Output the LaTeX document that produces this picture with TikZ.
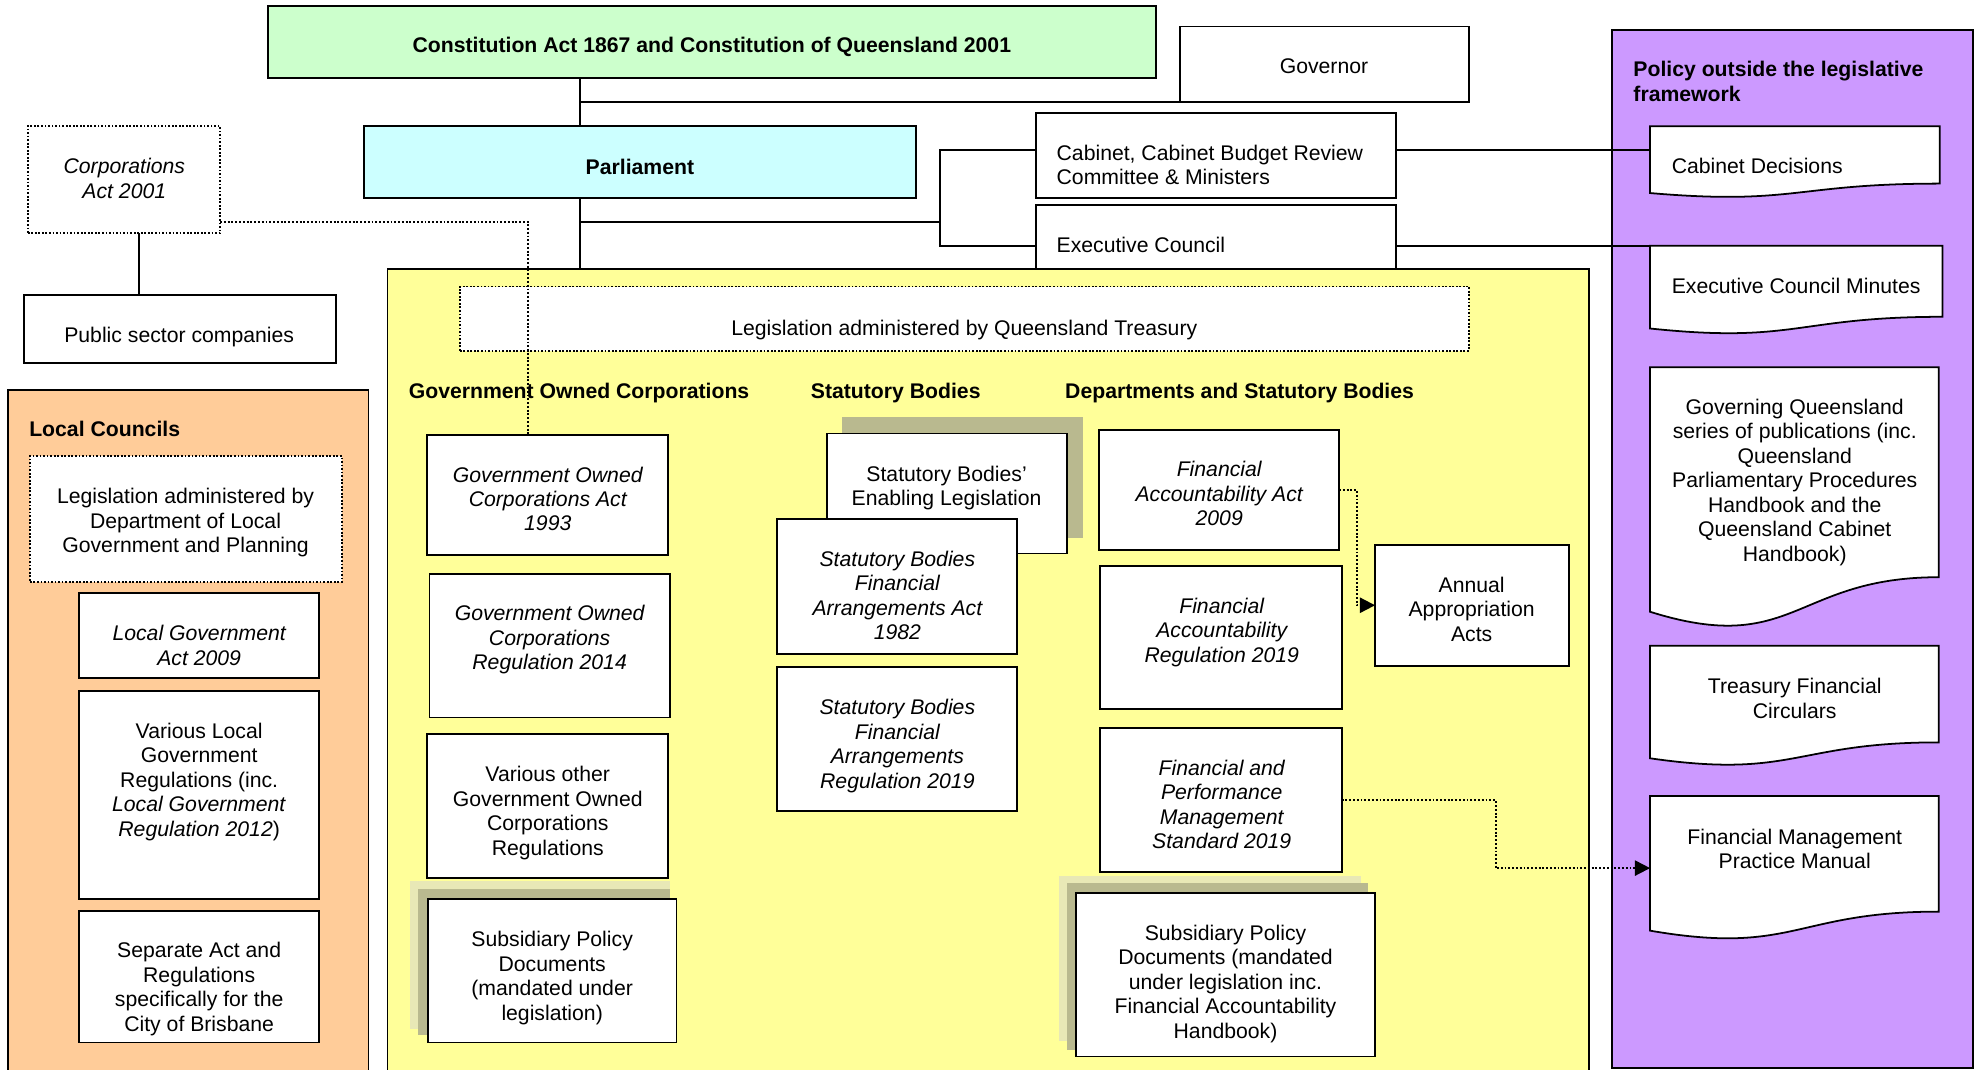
\documentclass[tikz,border=0pt]{standalone}
\usepackage{fontspec}
\setmainfont{Liberation Sans}
\usetikzlibrary{calc,arrows.meta}
\definecolor{cgreen}{HTML}{CCFFCC}
\definecolor{ccyan}{HTML}{CCFFFF}
\definecolor{cyel}{HTML}{FFFF99}
\definecolor{corange}{HTML}{FFCC99}
\definecolor{cpurple}{HTML}{CC99FF}
\definecolor{shdark}{HTML}{B9B98F}
\definecolor{shlight}{HTML}{E8E8B6}
\newcommand\fs{\fontsize{16.8}{19.4}\selectfont}
\newcommand\mkbox[6][]{\node[bx,#1,minimum width={(#5-#3)*1pt},minimum height={(#6-#4)*1pt}] (#2) at (#3,#4) {};}
\newcommand\mkdoc[5]{%
  \node[inner sep=0pt,outer sep=0pt,draw=none,anchor=north west,minimum width={(#4-#2)*1pt},minimum height={#5*1pt}] (#1) at (#2,#3) {};
  \draw[docst] (#1.north west) -- (#1.north east) -- ($(#1.north east)!0.802!(#1.south east)$)
    .. controls ($(#1.north)!0.802!(#1.south)$) and ($(#1.north)!1.107!(#1.south)$) .. ($(#1.north west)!0.934!(#1.south west)$) -- cycle;}
\tikzset{
  bx/.style={draw, line width=1.4pt, fill=white, inner sep=0pt, outer sep=0pt, anchor=north west},
  dotb/.style={dash pattern=on 1.4pt off 1.4pt, line width=1.4pt},
  tx/.style={align=center, inner sep=0pt, font=\fs},
  txi/.style={tx, font=\fs\itshape},
  txb/.style={tx, font=\fs\bfseries},
  lt/.style={align=left, inner sep=0pt, anchor=west, font=\fs},
  hd/.style={lt, font=\fs\bfseries},
  ln/.style={line width=1.4pt},
  dl/.style={line width=1.5pt, dash pattern=on 1.5pt off 1.5pt},
  arr/.style={-{Triangle[length=12pt,width=12pt]}},
  docst/.style={draw, fill=white, line width=1.4pt},
}
\begin{document}
\begin{tikzpicture}[x=1pt,y=-1pt]
\clip (0,0) rectangle (1568,847);
\fill[white] (0,0) rectangle (1568,847);
% regions
\mkbox[fill=cpurple]{purple}{1277}{23.7}{1563.4}{846.3}
\mkbox[fill=corange]{orange}{6.4}{308.8}{292}{862}
\mkbox[fill=cyel]{yel}{307}{213.4}{1259}{862}
% top
\mkbox[fill=cgreen]{const}{212.3}{4.8}{916}{62}
\mkbox{gov}{935}{21}{1164}{80.6}
\mkbox[fill=ccyan]{parl}{288.3}{99.8}{726}{156.6}
\mkbox{cab}{820.6}{89.8}{1106}{156.6}
\mkbox{exc}{820.6}{162.4}{1106}{213.4}
\mkbox[dotb]{corp}{22}{99.8}{174.4}{184.9}
\mkbox{pub}{18.8}{233.5}{266}{287.4}
\mkbox[dotb]{qt}{364.3}{227}{1164}{277.8}
% local councils
\mkbox[dotb]{lgd}{23.7}{361.3}{271}{461}
\mkbox{lga}{62.6}{470}{253}{537}
\mkbox{lgr}{62.6}{547.6}{253}{712}
\mkbox{bris}{62.6}{721.7}{253}{826}
% GOC
\mkbox{goca}{338.5}{344.7}{529.5}{439.7}
\mkbox{gocr}{340.3}{454.6}{530.6}{568.4}
\mkbox{goco}{338.5}{581.3}{529.5}{695.5}
\fill[shlight] (325,698) rectangle (531,815);
\fill[shdark] (331,704) rectangle (531,820);
\mkbox{gocs}{339}{712}{536}{826}
% statutory bodies
\fill[shdark] (667,330) rectangle (858,426);
\mkbox{sbe}{655}{343.5}{845.4}{438.6}
\mkbox{sba}{615.5}{411}{805.8}{518}
\mkbox{sbr}{615.5}{528.5}{805.8}{642.6}
% departments
\mkbox{faa}{870.5}{340.4}{1061}{435.8}
\mkbox{far}{871.6}{448.4}{1063}{562}
\mkbox{fpm}{871.6}{576.8}{1063}{691}
\fill[shlight] (839,693.7) rectangle (1078,825);
\fill[shdark] (845.4,699.6) rectangle (1084,832);
\mkbox{dsub}{852.6}{707.3}{1089.5}{837}
\mkbox{ann}{1089.5}{431.7}{1243}{527.4}
% documents
\mkdoc{cd}{1307.4}{100}{1536.8}{56.7}
\mkdoc{ecm}{1307.4}{194.7}{1539}{70.2}
\mkdoc{gq}{1307.4}{291}{1536}{207.4}
\mkdoc{tfc}{1307.4}{511.6}{1536}{95.5}
\mkdoc{fmpm}{1307.4}{630.7}{1536}{114.2}
% connectors
\coordinate (spine) at (459.8,0);
\draw[ln] (const.south -| spine) -- (parl.north -| spine);
\draw[ln] (spine |- gov.south) -- (gov.south west);
\draw[ln] (parl.south -| spine) -- (yel.north -| spine);
\coordinate (split) at (745,175.6);
\draw[ln] (spine |- split) -- (split);
\coordinate (cabj) at (745,118.9);
\coordinate (excj) at (745,195);
\draw[ln] (cab.west |- cabj) -- (cabj) -- (excj) -- (exc.west |- excj);
\draw[ln] (cab.east |- cabj) -- (cd.west |- cabj);
\draw[ln] (exc.east |- excj) -- (ecm.west |- excj);
\coordinate (corpx) at (110,0);
\draw[ln] (corp.south -| corpx) -- (pub.north -| corpx);
% texts
\node[txb] (const-t) at (564,37) {Constitution Act 1867 and Constitution of Queensland 2001};
\node[tx] (gov-t) at (1049,52.8) {Governor};
\node[txb] (parl-t) at (507,132) {Parliament};
\node[lt] (cab-t) at (837,130.8) {Cabinet, Cabinet Budget Review\\Committee \& Ministers};
\node[lt] (exc-t) at (837,194) {Executive Council};
\node[txi] (corp-t) at (98.5,141.3) {Corporations\\Act 2001};
\node[tx] (pub-t) at (142,267) {Public sector companies};
\node[tx] (qt-t) at (764,261.5) {Legislation administered by Queensland Treasury};
\node[hd] (h1) at (323.7,311.5) {Government Owned Corporations};
\node[hd] (h2) at (642.3,311.5) {Statutory Bodies};
\node[hd] (h3) at (843.8,311.5) {Departments and Statutory Bodies};
\node[hd] (lc-h) at (23,340) {Local Councils};
\node[hd] (po-h) at (1294,64.6) {Policy outside the legislative\\framework};
\node[tx] (lgd-t) at (147,414.2) {Legislation administered by\\Department of Local\\Government and Planning};
\node[txi] (lga-t) at (157.8,511.2) {Local Government\\Act 2009};
\node[tx] (lgr-t) at (157.8,619.5) {Various Local\\Government\\Regulations (inc.\\\textit{Local Government}\\\textit{Regulation 2012})};
\node[tx] (bris-t) at (157.8,783.7) {Separate Act and\\Regulations\\specifically for the\\City of Brisbane};
\node[txi] (goca-t) at (434,395.3) {Government Owned\\Corporations Act\\1993};
\node[txi] (gocr-t) at (435.5,507) {Government Owned\\Corporations\\Regulation 2014};
\node[tx] (goco-t) at (434,644) {Various other\\Government Owned\\Corporations\\Regulations};
\node[tx] (gocs-t) at (437.5,775) {Subsidiary Policy\\Documents\\(mandated under\\legislation)};
\node[tx] (sbe-t) at (750,386.5) {Statutory Bodies’\\Enabling Legislation};
\node[txi] (sba-t) at (711,471.6) {Statutory Bodies\\Financial\\Arrangements Act\\1982};
\node[txi] (sbr-t) at (711,591) {Statutory Bodies\\Financial\\Arrangements\\Regulation 2019};
\node[txi] (faa-t) at (966,391.3) {Financial\\Accountability Act\\2009};
\node[txi] (far-t) at (968,501) {Financial\\Accountability\\Regulation 2019};
\node[txi] (fpm-t) at (968,637.2) {Financial and\\Performance\\Management\\Standard 2019};
\node[tx] (dsub-t) at (971,779.3) {Subsidiary Policy\\Documents (mandated\\under legislation inc.\\Financial Accountability\\Handbook)};
\node[tx] (ann-t) at (1166,482.7) {Annual\\Appropriation\\Acts};
\node[lt] (cd-t) at (1324.4,131.3) {Cabinet Decisions};
\node[lt] (ecm-t) at (1324.4,226.5) {Executive Council Minutes};
\node[tx] (gq-t) at (1422,382.2) {Governing Queensland\\series of publications (inc.\\Queensland\\Parliamentary Procedures\\Handbook and the\\Queensland Cabinet\\Handbook)};
\node[tx] (tfc-t) at (1422,553.3) {Treasury Financial\\Circulars};
\node[tx] (fmpm-t) at (1422,672.5) {Financial Management\\Practice Manual};
% dotted connectors (drawn over text)
\coordinate (gocj) at (418.4,175.6);
\draw[dl] (corp.east |- gocj) -- (gocj) -- (goca.north -| gocj);
\coordinate (faj) at (1075,388);
\draw[dl,arr] (faa.east |- faj) -- (faj) -- (faj |- ann.west) -- (ann.west);
\coordinate (fpj) at (1185,0);
\draw[dl,arr] (fpm.east) -- (fpm.east -| fpj) -- (fpj |- fmpm.west) -- (fmpm.west);
\end{tikzpicture}
\end{document}
